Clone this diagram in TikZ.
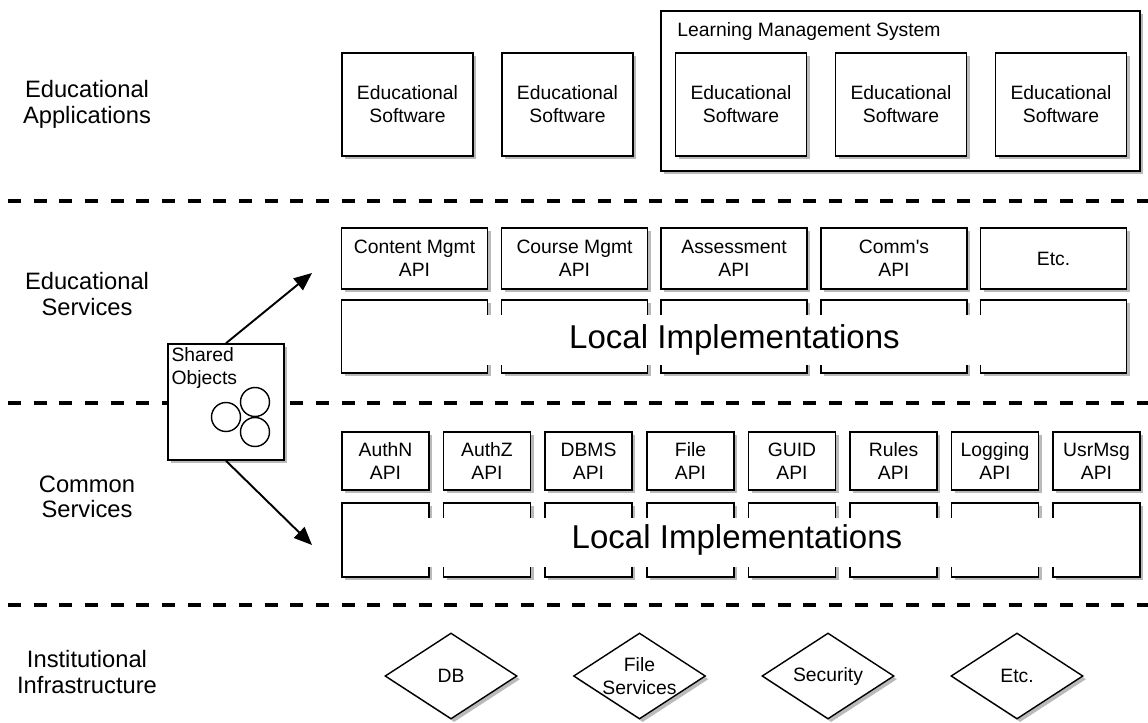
\documentclass[tikz,border=0pt]{standalone}
\usepackage{fontspec}
\setmainfont{Liberation Sans}
\usetikzlibrary{shapes.geometric,shadows,arrows.meta,positioning}

\tikzset{
  layername/.style={font=\fontsize{13.5}{14.5}\selectfont, align=center},
  boxshadow/.style={drop shadow={shadow xshift=1.8pt, shadow yshift=-1.8pt, fill=black!45, opacity=0.6}},
  swbox/.style={draw, line width=0.9pt, fill=white, boxshadow, align=center, inner sep=0pt, font=\fontsize{11}{13}\selectfont},
  appbox/.style={swbox, minimum width=2.62cm, minimum height=2.06cm},
  apibox/.style={swbox, minimum width=2.92cm, minimum height=1.22cm},
  impbox/.style={swbox, minimum width=2.92cm, minimum height=1.46cm},
  capibox/.style={swbox, minimum width=1.74cm, minimum height=1.16cm},
  cimpbox/.style={swbox, minimum width=1.74cm, minimum height=1.48cm},
  implband/.style={fill=white, inner sep=0pt, font=\fontsize{18.8}{22}\selectfont},
  infra/.style={draw, shape=diamond, line width=0.8pt, fill=white, boxshadow, inner sep=0pt, minimum width=2.64cm, minimum height=1.72cm},
  infratext/.style={align=center, font=\fontsize{11}{13}\selectfont},
  layerline/.style={line width=1.8pt, dash pattern=on 7.4pt off 7.2pt},
  obj/.style={draw, circle, line width=0.8pt, minimum size=0.58cm, inner sep=0pt},
  share/.style={line width=1.1pt, -{Triangle[length=0.36cm, width=0.3cm]}},
}

\begin{document}
\begin{tikzpicture}
  \useasboundingbox (0,0) rectangle (22.96,-14.44);
  % layer names
  \node[layername] (lapps) at (1.74,-2.09) {Educational\\Applications};
  \node[layername] (lsvc) at (1.74,-5.88) {Educational\\Services};
  \node[layername] (lcommon) at (1.74,-9.94) {Common\\Services};
  \node[layername] (linfra) at (1.74,-13.44) {Institutional\\Infrastructure};
  % layer borders
  \coordinate (s1l) at (0.16,-4.02); \coordinate (s1r) at (22.96,-4.02);
  \coordinate (s2l) at (0.16,-8.06); \coordinate (s2r) at (22.96,-8.06);
  \coordinate (s3l) at (0.16,-12.10); \coordinate (s3r) at (22.96,-12.10);
  \draw[layerline] (s1l) -- (s1r);
  \draw[layerline] (s2l) -- (s2r);
  \draw[layerline] (s3l) -- (s3r);
  % applications
  \node[appbox] (app1) at (8.15,-2.09) {Educational\\Software};
  \node[appbox] (app2) at (11.35,-2.09) {Educational\\Software};
  \node[swbox, minimum width=9.58cm, minimum height=3.20cm] (lms) at (18.01,-1.82) {};
  \node[anchor=base west, inner sep=0pt, font=\fontsize{11}{13}\selectfont] (lmsname) at (13.54,-0.74) {Learning Management System};
  \node[appbox] (app3) at (14.82,-2.09) {Educational\\Software};
  \node[appbox] (app4) at (18.02,-2.09) {Educational\\Software};
  \node[appbox] (app5) at (21.22,-2.09) {Educational\\Software};
  % educational services
  \node[apibox] (eapi1) at (8.29,-5.17) {Content Mgmt\\API};
  \node[apibox] (eapi2) at (11.49,-5.17) {Course Mgmt\\API};
  \node[apibox] (eapi3) at (14.68,-5.17) {Assessment\\API};
  \node[apibox] (eapi4) at (17.88,-5.17) {Comm\textquotesingle s\\API};
  \node[apibox] (eapi5) at (21.07,-5.17) {Etc.};
  \node[impbox] (eimp1) at (8.29,-6.73) {};
  \node[impbox] (eimp2) at (11.49,-6.73) {};
  \node[impbox] (eimp3) at (14.68,-6.73) {};
  \node[impbox] (eimp4) at (17.88,-6.73) {};
  \node[impbox] (eimp5) at (21.07,-6.73) {};
  \node[implband, minimum width=15.54cm, minimum height=1.00cm] (eband) at (14.69,-6.80) {Local Implementations};
  % common services
  \node[capibox] (capi1) at (7.71,-9.22) {AuthN\\API};
  \node[capibox] (capi2) at (9.74,-9.22) {AuthZ\\API};
  \node[capibox] (capi3) at (11.77,-9.22) {DBMS\\API};
  \node[capibox] (capi4) at (13.81,-9.22) {File\\API};
  \node[capibox] (capi5) at (15.84,-9.22) {GUID\\API};
  \node[capibox] (capi6) at (17.87,-9.22) {Rules\\API};
  \node[capibox] (capi7) at (19.90,-9.22) {Logging\\API};
  \node[capibox] (capi8) at (21.93,-9.22) {UsrMsg\\API};
  \node[cimpbox] (cimp1) at (7.71,-10.80) {};
  \node[cimpbox] (cimp2) at (9.74,-10.80) {};
  \node[cimpbox] (cimp3) at (11.77,-10.80) {};
  \node[cimpbox] (cimp4) at (13.81,-10.80) {};
  \node[cimpbox] (cimp5) at (15.84,-10.80) {};
  \node[cimpbox] (cimp6) at (17.87,-10.80) {};
  \node[cimpbox] (cimp7) at (19.90,-10.80) {};
  \node[cimpbox] (cimp8) at (21.93,-10.80) {};
  \node[implband, minimum width=15.80cm, minimum height=0.98cm] (cband) at (14.82,-10.85) {};
  \node[font=\fontsize{18.8}{22}\selectfont, inner sep=0pt] (cbandtext) at (14.74,-10.80) {Local Implementations};
  % infrastructure
  \node[infra, label={[infratext]center:DB}] (db) at (9.02,-13.52) {};
  \node[infra, label={[infratext]center:File\\Services}] (files) at (12.79,-13.52) {};
  \node[infra, label={[infratext]center:Security}] (security) at (16.56,-13.52) {};
  \node[infra, label={[infratext]center:Etc.}] (infraetc) at (20.34,-13.52) {};
  % shared objects
  \node[swbox, minimum width=2.32cm, minimum height=2.32cm] (shared) at (4.52,-8.04) {};
  \node[below right=0.08cm and 0.08cm of shared.north west, inner sep=0pt, align=left, font=\fontsize{11}{13}\selectfont] (sharedname) {Shared\\Objects};
  \node[obj] (obj1) at (4.52,-8.34) {};
  \node[obj] (obj2) at (5.10,-8.04) {};
  \node[obj] (obj3) at (5.10,-8.64) {};
  \coordinate (tipup) at (6.24,-5.46);
  \coordinate (tipdown) at (6.24,-10.90);
  \draw[share] (shared.north) -- (tipup);
  \draw[share] (shared.south) -- (tipdown);
\end{tikzpicture}
\end{document}
